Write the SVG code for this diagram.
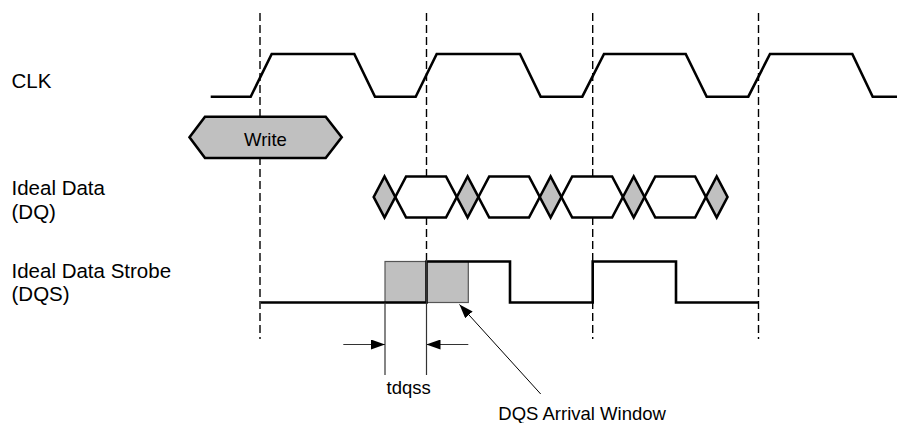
<svg xmlns="http://www.w3.org/2000/svg" width="897" height="423" viewBox="0 0 897 423">
<defs>
<style>
.sig{fill:none;stroke:#000;stroke-width:2.6;stroke-linejoin:miter}
.dash{fill:none;stroke:#000;stroke-width:1.4;stroke-dasharray:8,4}
.thin{fill:none;stroke:#333;stroke-width:1.2}
.gray{fill:#c0c0c0;stroke:#000;stroke-width:2.6}
.eye{fill:#fff;stroke:#000;stroke-width:2.6}
.lbl{font-family:"Liberation Sans",Arial,sans-serif;font-size:20.5px;fill:#000}
.txt{font-family:"Liberation Sans",Arial,sans-serif;font-size:18.5px;fill:#000}
</style>
<marker id="ah2" viewBox="0 0 14 10" refX="14" refY="5" markerWidth="14" markerHeight="10" markerUnits="userSpaceOnUse" orient="auto">
<path d="M0,0 L14,5 L0,10 Z" fill="#000"/>
</marker>
</defs>
<rect width="897" height="423" fill="#fff"/>

<g id="labels">
<text class="lbl" x="11.5" y="87.5">CLK</text>
<text class="lbl" x="11.5" y="195">Ideal Data</text>
<text class="lbl" x="11.5" y="219">(DQ)</text>
<text class="lbl" x="11.5" y="278">Ideal Data Strobe</text>
<text class="lbl" x="11.5" y="301">(DQS)</text>
</g>

<g id="gridlines">
<line class="dash" x1="260" y1="13" x2="260" y2="339"/>
<line class="dash" x1="426.5" y1="13" x2="426.5" y2="260"/>
<line class="dash" x1="592.7" y1="13" x2="592.7" y2="339"/>
<line class="dash" x1="758.5" y1="13" x2="758.5" y2="339"/>
</g>

<g id="clk">
<path class="sig" d="M210.7,96.7 L250.7,96.7 L271.7,54 L354.3,54 L375,96.7 L415.7,96.7 L436.7,54 L520,54 L540.7,96.7 L582.3,96.7 L604,54 L685.7,54 L706.7,96.7 L748.3,96.7 L770,54 L852.3,54 L872.7,96.7 L897,96.7"/>
</g>

<g id="write">
<polygon class="gray" points="189.5,137.3 205,116.7 325.7,116.7 341.7,137.3 325.7,158 205,158"/>
<text class="txt" x="265.5" y="145.7" text-anchor="middle">Write</text>
</g>

<g id="dq">
<polygon class="eye" points="395.3,197 406.1,176.5 446,176.5 456.8,197 446,217.5 406.1,217.5"/>
<polygon class="eye" points="478.4,197 489.2,176.5 529,176.5 539.8,197 529,217.5 489.2,217.5"/>
<polygon class="eye" points="561.4,197 572.2,176.5 612.1,176.5 622.9,197 612.1,217.5 572.2,217.5"/>
<polygon class="eye" points="644.5,197 655.3,176.5 695.1,176.5 705.9,197 695.1,217.5 655.3,217.5"/>
<polygon class="gray" points="373.7,197 384.5,176.5 395.3,197 384.5,217.5"/>
<polygon class="gray" points="456.8,197 467.6,176.5 478.4,197 467.6,217.5"/>
<polygon class="gray" points="539.8,197 550.6,176.5 561.4,197 550.6,217.5"/>
<polygon class="gray" points="622.9,197 633.7,176.5 644.5,197 633.7,217.5"/>
<polygon class="gray" points="705.9,197 716.7,176.5 727.5,197 716.7,217.5"/>
</g>

<g id="dqs">
<rect x="385" y="261.5" width="83.3" height="41" fill="#c0c0c0" stroke="#555" stroke-width="1.2"/>
<path class="sig" d="M260.7,302.5 L426.5,302.5 L426.5,261.5 L510,261.5 L510,302.5 L592.7,302.5 L592.7,261.5 L676,261.5 L676,302.5 L758.5,302.5"/>
</g>

<g id="connectors">
<line class="thin" x1="385" y1="302.5" x2="385" y2="375"/>
<line class="thin" x1="426.5" y1="260" x2="426.5" y2="375"/>
<line class="thin" x1="343.3" y1="344.5" x2="385" y2="344.5" marker-end="url(#ah2)"/>
<line class="thin" x1="468.3" y1="344.5" x2="426.5" y2="344.5" marker-end="url(#ah2)"/>
<line x1="540.7" y1="394" x2="459.5" y2="304.5" stroke="#000" stroke-width="1" marker-end="url(#ah2)"/>
</g>

<g id="annotations">
<text class="txt" x="408.7" y="394" text-anchor="middle">tdqss</text>
<text class="txt" x="498.3" y="420">DQS Arrival Window</text>
</g>
</svg>
